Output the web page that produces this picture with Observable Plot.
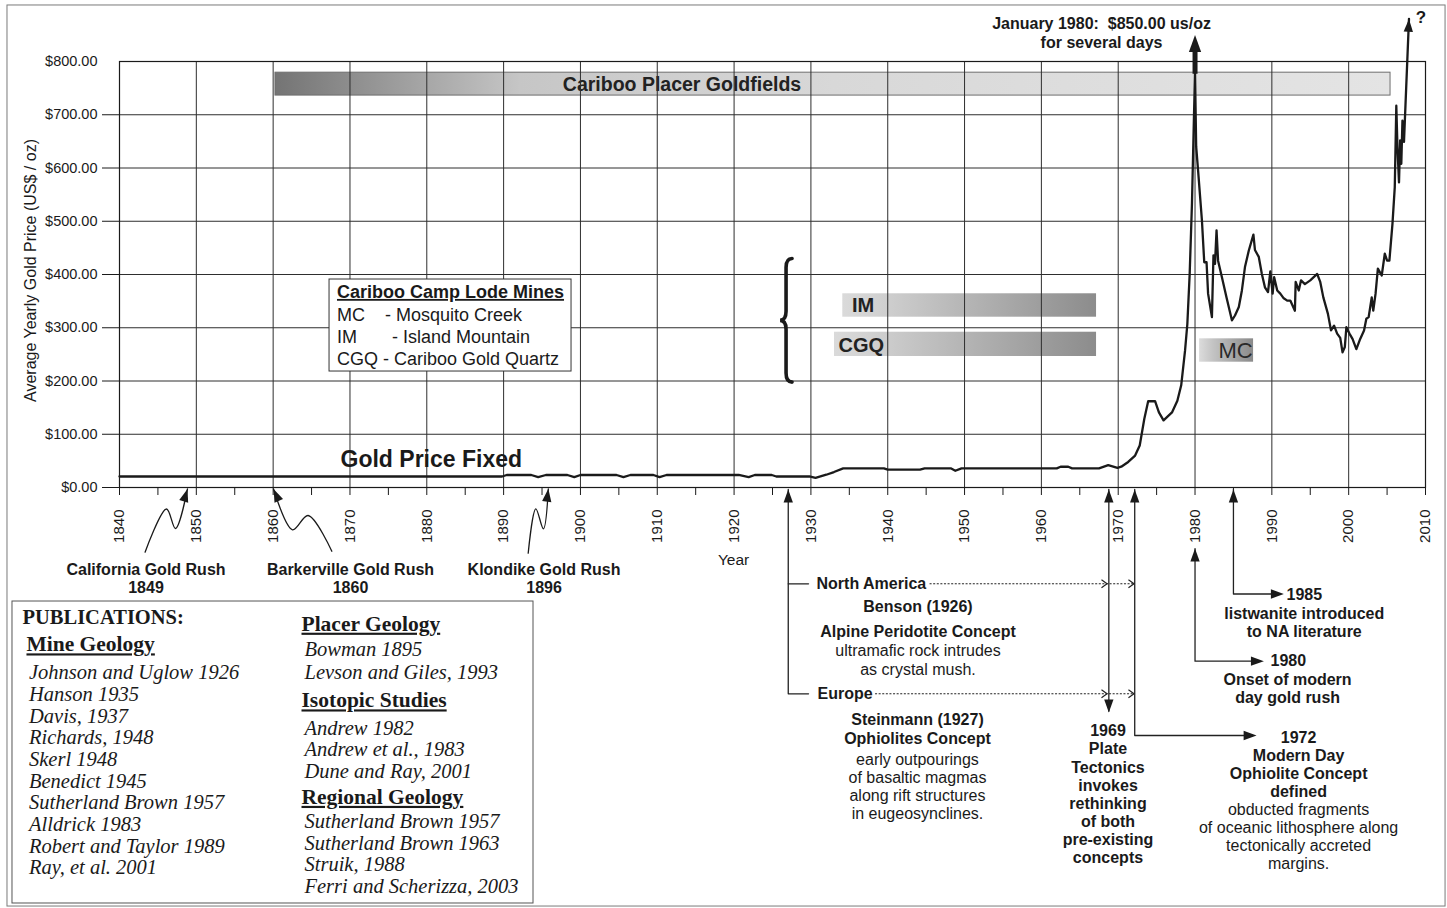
<!DOCTYPE html>
<html>
<head>
<meta charset="utf-8">
<script src="https://cdn.jsdelivr.net/npm/d3@7"></script>
<script src="https://cdn.jsdelivr.net/npm/@observablehq/plot@0.6"></script>
<style>
  html, body { margin: 0; padding: 0; background: #fff; }
  #chart svg text { white-space: pre; }
</style>
</head>
<body>
<div id="chart"></div>
<script>
// ---------------- DATA ----------------
// Average gold price (US$/oz) (year, price)
const goldYears = [1840, 1889.8, 1890.4, 1893.6, 1894.5, 1895.5, 1898.3, 1899.2, 1900.0, 1904.7, 1905.6, 1906.5, 1909.5, 1910.3, 1911.2, 1920.6, 1921.9, 1922.7, 1924.9, 1925.5, 1929.8, 1930.6, 1932.0, 1933.0, 1934.2, 1939.5, 1940.0, 1944.2, 1944.8, 1948.2, 1948.8, 1949.6, 1962.0, 1962.5, 1963.5, 1964.0, 1967.5, 1968.7, 1969.9, 1970.4, 1971.3, 1972.2, 1972.8, 1973.4, 1973.9, 1974.8, 1975.3, 1975.9, 1977.0, 1977.7, 1978.2, 1978.7, 1979.0, 1979.3, 1979.6, 1979.85, 1980.0, 1980.15, 1980.4, 1980.9, 1981.2, 1981.5, 1981.7, 1982.2, 1982.4, 1982.6, 1982.8, 1983.0, 1983.5, 1984.1, 1984.8, 1985.2, 1985.7, 1986.1, 1986.5, 1987.0, 1987.6, 1987.8, 1988.3, 1988.7, 1989.1, 1989.5, 1989.8, 1990.1, 1990.3, 1990.7, 1991.1, 1991.5, 1992.0, 1992.4, 1993.0, 1993.1, 1993.5, 1993.8, 1994.3, 1995.0, 1995.9, 1996.3, 1996.7, 1997.3, 1997.7, 1998.1, 1998.5, 1998.9, 1999.2, 1999.5, 1999.7, 2000.1, 2000.5, 2001.0, 2001.5, 2002.0, 2002.3, 2002.6, 2003.0, 2003.2, 2003.5, 2003.8, 2004.3, 2004.7, 2005.0, 2005.3, 2005.7, 2006.0, 2006.2, 2006.35, 2006.55, 2006.7, 2006.85, 2007.0, 2007.2, 2007.85];
const goldPrices = [20.67, 20.67, 23.5, 23.5, 19.5, 23.5, 23.5, 19.5, 23.5, 23.5, 19.5, 23.5, 23.5, 19.5, 23.5, 23.5, 19.5, 23.5, 23.5, 20.67, 20.67, 18, 24, 29, 36, 36, 33.5, 33.5, 36, 36, 31.5, 36, 36, 39, 39, 36, 36, 42, 37, 39, 48, 60, 79, 129, 162, 162, 141, 126, 141, 163, 192, 257, 307, 400, 533, 690, 778, 640, 595, 501, 423, 423, 364, 320, 436, 420, 483, 426, 395, 357, 314, 323, 339, 370, 414, 445, 475, 446, 433, 401, 376, 367, 406, 364, 395, 370, 364, 356, 351, 351, 332, 386, 370, 389, 382, 389, 401, 386, 357, 326, 295, 304, 289, 281, 254, 264, 301, 289, 279, 260, 279, 295, 317, 320, 357, 332, 364, 411, 398, 439, 426, 426, 495, 564, 717, 639, 573, 652, 608, 689, 649, 880];

// Axis ticks
const xTicks = d3.range(1840, 2011, 5);
const xGrid = d3.range(1850, 2001, 10);
const yTicks = d3.range(0, 701, 100);
const yGrid = d3.range(100, 701, 100);

// Shaded time bars (start year, end year, price band)
const caribooBar = [{name: "Cariboo Placer Goldfields", start: 1860.3, end: 2005.45, low: 736, high: 779}];
const mineBars = [
  {name: "IM", start: 1934.15, end: 1967.18, low: 319.8, high: 363.8},
  {name: "CGQ", start: 1933.07, end: 1967.18, low: 246.0, high: 291.6}
];
const mcBar = [{name: "MC", start: 1980.59, end: 1987.62, low: 235.3, high: 279.2}];

// Legend of lode mines
const legendTitle = "Cariboo Camp Lode Mines";
const legendLines = ["MC    - Mosquito Creek", "IM       - Island Mountain", "CGQ - Cariboo Gold Quartz"];

// Gold rush annotations
const rushNames = ["California Gold Rush", "Barkerville Gold Rush", "Klondike Gold Rush"];
const rushYears = [1849, 1860, 1896];

// Publications
const pubMine = ["Johnson and Uglow 1926", "Hanson 1935", "Davis, 1937", "Richards, 1948", "Skerl 1948", "Benedict 1945", "Sutherland Brown 1957", "Alldrick 1983", "Robert and Taylor 1989", "Ray, et al. 2001"];
const pubPlacer = ["Bowman 1895", "Levson and Giles, 1993"];
const pubIsotopic = ["Andrew 1982", "Andrew et al., 1983", "Dune and Ray, 2001"];
const pubRegional = ["Sutherland Brown 1957", "Sutherland Brown 1963", "Struik, 1988", "Ferri and Scherizza, 2003"];

// ---------------- HELPERS ----------------
const SANS = "'Liberation Sans', Arial, Helvetica, sans-serif";
const SERIF = "'Liberation Serif', 'Times New Roman', Times, serif";
const INK = "#1a1a1a";

// filled arrow head, tip at origin, pointing up
const arrowHead = {draw(ctx, size) {
  const s = Math.sqrt(size);
  ctx.moveTo(0, 0); ctx.lineTo(0.36 * s, 1.0 * s); ctx.lineTo(-0.36 * s, 1.0 * s); ctx.closePath();
}};
// open chevron, tip at origin, pointing right
const chevron = {draw(ctx, size) {
  const s = Math.sqrt(size);
  ctx.moveTo(-0.7 * s, -0.5 * s); ctx.lineTo(0, 0); ctx.lineTo(-0.7 * s, 0.5 * s);
}};

const toRows = (paths) => paths.flatMap(p => p.pts.map(([x, y]) => ({id: p.id, x, y})));

// annotation geometry (in year / price units)
const rushCurves = [
  {id: "California", pts: [[1843.33, -121.5], [1846.12, -40.4], [1847.29, -77.0], [1848.85, -2.8]]},
  {id: "Barkerville", pts: [[1860.05, -2.8], [1862.52, -79.4], [1864.55, -52.6], [1867.64, -119.7]]},
  {id: "Klondike", pts: [[1893.2, -123.4], [1894.19, -40.0], [1895.18, -77.6], [1895.82, -2.4]]}
];
const connectors = [
  {id: "c1927", pts: [[1927.05, -3.8], [1927.05, -387.4], [1929.69, -387.4]]},
  {id: "c1927na", pts: [[1927.05, -180.8], [1929.69, -180.8]]},
  {id: "c1969", pts: [[1968.78, -3.8], [1968.78, -420]]},
  {id: "c1972", pts: [[1972.15, -3.8], [1972.15, -465.7], [1987.5, -465.7]]},
  {id: "c1980", pts: [[1980, -114.6], [1980, -326.2], [1988.5, -326.2]]},
  {id: "c1985", pts: [[1985, -3.8], [1985, -200.0], [1991.1, -200.0]]}
];
const dottedLines = [
  {id: "na", pts: [[1945.5, -180.8], [1972.06, -180.8]]},
  {id: "eu", pts: [[1938.4, -387.4], [1972.06, -387.4]]}
];
const chevrons = [
  {x: 1968.55, y: -180.8}, {x: 1972.06, y: -180.8},
  {x: 1968.55, y: -387.4}, {x: 1972.06, y: -387.4}
];
const heads = [
  {x: 1848.85, y: -2.8, a: 17},
  {x: 1860.05, y: -2.8, a: -24},
  {x: 1895.82, y: -2.4, a: 7},
  {x: 1927.05, y: -3.8, a: 0},
  {x: 1968.78, y: -3.8, a: 0},
  {x: 1968.78, y: -422.5, a: 180},
  {x: 1972.15, y: -3.8, a: 0},
  {x: 1988.01, y: -465.7, a: 90},
  {x: 1980, y: -114.6, a: 0},
  {x: 1988.96, y: -326.2, a: 90},
  {x: 1985, y: -3.8, a: 0},
  {x: 1991.56, y: -200.0, a: 90},
  {x: 2007.85, y: 880, a: 3}
];

// gradient definitions
function gradientDefs() {
  const defs = d3.create("svg:defs");
  const mk = (id, stops) => {
    const g = defs.append("linearGradient").attr("id", id).attr("x1", "0").attr("x2", "1").attr("y1", "0").attr("y2", "0");
    stops.forEach(([o, c]) => g.append("stop").attr("offset", o).attr("stop-color", c));
  };
  mk("gCariboo", [[0, "#747474"], [0.22, "#c6c6c6"], [0.5, "#d8d8d8"], [1, "#e4e4e4"]]);
  mk("gMine", [[0, "#dadada"], [0.13, "#d2d2d2"], [1, "#8c8c8c"]]);
  mk("gMC", [[0, "#dcdcdc"], [0.25, "#c4c4c4"], [1, "#8a8a8a"]]);
  return defs.node();
}

// curly brace next to the lode-mine bars
const braceSpan = {year: 1926.83, top: 429, bottom: 197};
function braceMark(index, scales) {
  const x = scales.x(braceSpan.year), y0 = scales.y(braceSpan.top), y1 = scales.y(braceSpan.bottom);
  const m = (y0 + y1) / 2, w = 6;
  const p = `M${x + w},${y0} Q${x},${y0} ${x},${y0 + 9} L${x},${m - 9} Q${x},${m} ${x - w},${m} Q${x},${m} ${x},${m + 9} L${x},${y1 - 9} Q${x},${y1} ${x + w},${y1}`;
  return d3.create("svg:path").attr("d", p).attr("fill", "none").attr("stroke", INK)
    .attr("stroke-width", 3.6).attr("stroke-linecap", "round").node();
}

const T = (text, opts) => Plot.text([text], {fontFamily: SANS, fill: INK, fontSize: 16, ...opts});

// ---------------- PLOT ----------------
const chart = Plot.plot({
  width: 1447,
  height: 908,
  marginLeft: 119,
  marginRight: 22,
  marginTop: 61,
  marginBottom: 421,
  x: {domain: [1840, 2010]},
  y: {domain: [0, 800]},
  style: {fontFamily: SANS, background: "#fff", color: INK, overflow: "visible"},
  marks: [
    gradientDefs,
    // outer border
    Plot.rect([0], {x1: 1825.42, x2: 2012.61, y1: 905.2, y2: -786.9, fill: "none", stroke: "#7a7a7a", strokeWidth: 1}),
    // shaded bars
    Plot.rect(caribooBar, {x1: "start", x2: "end", y1: "low", y2: "high", fill: "url(#gCariboo)", stroke: "#6e6e6e", strokeWidth: 1}),
    Plot.rect(mineBars, {x1: "start", x2: "end", y1: "low", y2: "high", fill: "url(#gMine)"}),
    Plot.rect(mcBar, {x1: "start", x2: "end", y1: "low", y2: "high", fill: "url(#gMC)"}),
    T("Cariboo Placer Goldfields", {x: 1913.22, y: 756.8, fontSize: 19.5, fontWeight: "bold", fill: "#222"}),
    T("IM", {x: 1935.35, y: 341.8, fontSize: 20, fontWeight: "bold", textAnchor: "start", fill: "#222"}),
    T("CGQ", {x: 1933.6, y: 266.7, fontSize: 20, fontWeight: "bold", textAnchor: "start", fill: "#222"}),
    T("MC", {x: 1983.06, y: 257.3, fontSize: 22, textAnchor: "start", fill: "#2a2a2a"}),
    // grid
    Plot.ruleX(xGrid, {stroke: "#2e2e2e", strokeWidth: 1}),
    Plot.ruleY(yGrid, {stroke: "#2e2e2e", strokeWidth: 1}),
    // legend box
    Plot.rect([0], {x1: 1867.34, x2: 1898.84, y1: 390.6, y2: 217.8, fill: "#fff", stroke: "#333", strokeWidth: 1}),
    T(legendTitle, {x: 1868.31, y: 366.8, fontSize: 18, fontWeight: "bold", textAnchor: "start"}),
    Plot.text(legendLines, {x: 1868.31, y: (d, i) => 323.0 - i * 40.65, fontSize: 18, textAnchor: "start", fill: INK, fontFamily: SANS}),
    // frame and axes
    Plot.frame({stroke: INK, strokeWidth: 1.2}),
    Plot.axisX({ticks: xTicks, tickFormat: d => d % 10 === 0 ? String(d) : "", tickRotate: -90, tickSize: 8, tickPadding: 14, fontSize: 15, label: null}),
    Plot.axisY({ticks: yTicks, tickSize: 17, tickPadding: 5, tickFormat: d => "$" + d.toFixed(2), fontSize: 14.5, label: null}),
    Plot.axisY({ticks: [800], tickSize: 0, tickPadding: 22, tickFormat: d => "$" + d.toFixed(2), fontSize: 14.5, label: null}),
    Plot.text(["Average Yearly Gold Price (US$ / oz)"], {frameAnchor: "left", textAnchor: "middle", dx: -89, dy: -4, rotate: -90, fontSize: 16, fill: INK}),
    T("Year", {x: 1919.93, y: -137.1, fontSize: 15.5, fontWeight: "normal"}),
    // gold price line
    Plot.line(goldPrices, {x: goldYears, y: goldPrices, stroke: INK, strokeWidth: 2.3, strokeLinejoin: "round"}),
    // January 1980 spike arrow
    Plot.ruleX([1980], {y1: 776, y2: 824, stroke: INK, strokeWidth: 5}),
    Plot.dot([{x: 1980, y: 850}], {x: "x", y: "y", symbol: arrowHead, r: 9.6, fill: INK, stroke: "none"}),
    T("January 1980:  $850.00 us/oz\nfor several days", {x: 1967.83, y: 855.4, fontWeight: "bold", lineHeight: 1.19}),
    T("?", {x: 2009.4, y: 882.6, fontWeight: "bold", fontSize: 17}),
    T("Gold Price Fixed", {x: 1868.77, y: 52.6, fontSize: 23, fontWeight: "bold", textAnchor: "start"}),
    braceMark,
    // gold rush squiggles
    Plot.line(toRows(rushCurves), {x: "x", y: "y", z: "id", curve: "catmull-rom", stroke: INK, strokeWidth: 1.3}),
    Plot.text(rushNames, {x: [1843.45, 1870.07, 1895.26], y: -170.9, text: (d, i) => d + "\n" + rushYears[i], fontWeight: "bold", fontSize: 16, lineHeight: 1.125, fill: INK, fontFamily: SANS}),
    // timeline connectors
    Plot.line(toRows(connectors), {x: "x", y: "y", z: "id", stroke: "#222", strokeWidth: 1.3}),
    Plot.line(toRows(dottedLines), {x: "x", y: "y", z: "id", stroke: "#222", strokeWidth: 1.1, strokeDasharray: "1.2,2.4"}),
    Plot.dot(chevrons, {x: "x", y: "y", symbol: chevron, r: 4.5, fill: "none", stroke: "#222", strokeWidth: 1.2}),
    Plot.dot(heads, {x: "x", y: "y", rotate: "a", symbol: arrowHead, r: 7.3, fill: INK, stroke: "none"}),
    // timeline texts
    T("North America", {x: 1930.73, y: -180.8, fontWeight: "bold", textAnchor: "start"}),
    T("Europe", {x: 1930.86, y: -387.4, fontWeight: "bold", textAnchor: "start"}),
    T("Benson (1926)", {x: 1943.94, y: -224.8, fontWeight: "bold"}),
    T("Alpine Peridotite Concept", {x: 1943.94, y: -271.7, fontWeight: "bold"}),
    T("ultramafic rock intrudes\nas crystal mush.", {x: 1943.94, y: -323.4, lineHeight: 1.14}),
    T("Steinmann (1927)\nOphiolites Concept", {x: 1943.87, y: -453.1, fontWeight: "bold", lineHeight: 1.14}),
    T("early outpourings\nof basaltic magmas\nalong rift structures\nin eugeosynclines.", {x: 1943.87, y: -560.6, lineHeight: 1.14}),
    T("1969\nPlate\nTectonics\ninvokes\nrethinking\nof both\npre-existing\nconcepts", {x: 1968.67, y: -575.4, fontWeight: "bold", lineHeight: 1.13}),
    T("1972\nModern Day\nOphiolite Concept\ndefined", {x: 1993.48, y: -520.0, fontWeight: "bold", lineHeight: 1.13}),
    T("obducted fragments\nof oceanic lithosphere along\ntectonically accreted\nmargins.", {x: 1993.48, y: -654.8, lineHeight: 1.13}),
    T("1980", {x: 1989.83, y: -326.2, fontWeight: "bold", textAnchor: "start"}),
    T("Onset of modern\nday gold rush", {x: 1992.05, y: -376.5, fontWeight: "bold", lineHeight: 1.15}),
    T("1985", {x: 1991.91, y: -201.5, fontWeight: "bold", textAnchor: "start"}),
    T("listwanite introduced\nto NA literature", {x: 1994.22, y: -253.0, fontWeight: "bold", lineHeight: 1.13}),
    // publications box
    Plot.rect([0], {x1: 1826.07, x2: 1893.89, y1: -214.1, y2: -781.2, fill: "#fff", stroke: "#555", strokeWidth: 1}),
    T("PUBLICATIONS:", {x: 1827.37, y: -244.1, fontFamily: SERIF, fontWeight: "bold", fontSize: 20.5, textAnchor: "start"}),
    T("Mine Geology", {x: 1827.89, y: -294.8, fontFamily: SERIF, fontWeight: "bold", fontSize: 21.5, textAnchor: "start"}),
    Plot.text(pubMine, {x: 1828.22, y: (d, i) => -348.0 - i * 40.69, fontFamily: SERIF, fontStyle: "italic", fontSize: 20.5, textAnchor: "start", fill: INK}),
    T("Placer Geology", {x: 1863.69, y: -256.0, fontFamily: SERIF, fontWeight: "bold", fontSize: 21.5, textAnchor: "start"}),
    Plot.text(pubPlacer, {x: 1864.08, y: (d, i) => -304.8 - i * 41.7, fontFamily: SERIF, fontStyle: "italic", fontSize: 20.5, textAnchor: "start", fill: INK}),
    T("Isotopic Studies", {x: 1863.69, y: -400.0, fontFamily: SERIF, fontWeight: "bold", fontSize: 21.5, textAnchor: "start"}),
    Plot.text(pubIsotopic, {x: 1864.08, y: (d, i) => -452.0 - i * 40.2, fontFamily: SERIF, fontStyle: "italic", fontSize: 20.5, textAnchor: "start", fill: INK}),
    T("Regional Geology", {x: 1863.69, y: -581.2, fontFamily: SERIF, fontWeight: "bold", fontSize: 21.5, textAnchor: "start"}),
    Plot.text(pubRegional, {x: 1864.08, y: (d, i) => -627.2 - i * 40.5, fontFamily: SERIF, fontStyle: "italic", fontSize: 20.5, textAnchor: "start", fill: INK})
  ]
});

const underlined = new Set([legendTitle, "Mine Geology", "Placer Geology", "Isotopic Studies", "Regional Geology"]);
d3.select(chart).selectAll("text").filter(function () { return underlined.has(this.textContent); })
  .style("text-decoration", "underline");

document.getElementById("chart").appendChild(chart);
</script>
</body>
</html>
